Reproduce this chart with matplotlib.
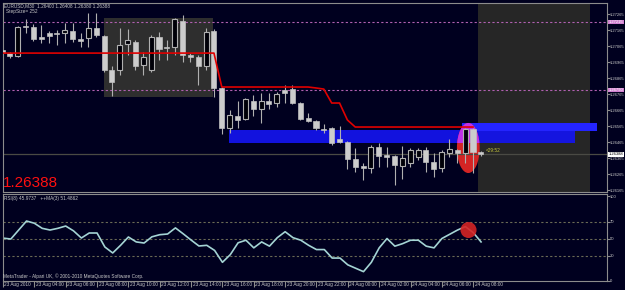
import numpy as np
import matplotlib
matplotlib.use("Agg")
import matplotlib.pyplot as plt
from matplotlib import font_manager
from matplotlib.patches import Rectangle, Ellipse
from matplotlib.transforms import ScaledTranslation

# EURUSD M30, 23 Aug 02:00 .. 24 Aug 08:30 (62 bars)
opens = [1.27040, 1.27021, 1.27003, 1.27190, 1.27184, 1.27121, 1.27146, 1.27146, 1.27146, 1.27159,
         1.27109, 1.27115, 1.27178, 1.27128, 1.26915, 1.26915, 1.27078, 1.27090, 1.26946, 1.26915,
         1.27121, 1.27059, 1.27059, 1.27221, 1.27009, 1.26996, 1.26940, 1.27159, 1.26803, 1.26553,
         1.26628, 1.26609, 1.26721, 1.26671, 1.26721, 1.26709, 1.26790, 1.26796, 1.26709, 1.26615,
         1.26596, 1.26546, 1.26553, 1.26484, 1.26465, 1.26359, 1.26315, 1.26303, 1.26434, 1.26384,
         1.26378, 1.26315, 1.26334, 1.26371, 1.26415, 1.26340, 1.26303, 1.26396, 1.26415, 1.26396,
         1.26546, 1.26400]
highs = [1.27053, 1.27028, 1.27190, 1.27234, 1.27203, 1.27196, 1.27159, 1.27165, 1.27209, 1.27209,
         1.27146, 1.27271, 1.27271, 1.27134, 1.26940, 1.27178, 1.27171, 1.27103, 1.27028, 1.27134,
         1.27153, 1.27103, 1.27240, 1.27259, 1.27021, 1.27009, 1.27178, 1.27171, 1.26809, 1.26665,
         1.26721, 1.26740, 1.26759, 1.26771, 1.26771, 1.26778, 1.26821, 1.26821, 1.26715, 1.26646,
         1.26603, 1.26578, 1.26559, 1.26565, 1.26471, 1.26428, 1.26334, 1.26446, 1.26459, 1.26434,
         1.26384, 1.26440, 1.26428, 1.26428, 1.26434, 1.26396, 1.26415, 1.26484, 1.26421, 1.26553,
         1.26553, 1.26408]
lows = [1.27009, 1.26990, 1.26996, 1.27146, 1.27096, 1.27084, 1.27084, 1.27071, 1.27084, 1.27090,
        1.27059, 1.27059, 1.27121, 1.26903, 1.26753, 1.26884, 1.27009, 1.26915, 1.26884, 1.26903,
        1.26978, 1.26978, 1.27009, 1.26965, 1.26965, 1.26821, 1.26915, 1.26746, 1.26515, 1.26521,
        1.26553, 1.26603, 1.26628, 1.26584, 1.26671, 1.26684, 1.26709, 1.26703, 1.26603, 1.26590,
        1.26540, 1.26521, 1.26446, 1.26459, 1.26296, 1.26278, 1.26228, 1.26271, 1.26309, 1.26309,
        1.26196, 1.26234, 1.26309, 1.26353, 1.26278, 1.26246, 1.26278, 1.26371, 1.26334, 1.26334,
        1.26271, 1.26380]
closes = [1.27021, 1.27003, 1.27184, 1.27184, 1.27109, 1.27109, 1.27128, 1.27140, 1.27165, 1.27109,
          1.27096, 1.27178, 1.27134, 1.26915, 1.26840, 1.27071, 1.27103, 1.26940, 1.26996, 1.27121,
          1.27046, 1.27053, 1.27234, 1.27009, 1.26996, 1.26940, 1.27153, 1.26803, 1.26553, 1.26634,
          1.26603, 1.26734, 1.26671, 1.26721, 1.26703, 1.26765, 1.26771, 1.26709, 1.26609, 1.26596,
          1.26553, 1.26540, 1.26459, 1.26465, 1.26359, 1.26309, 1.26303, 1.26434, 1.26378, 1.26371,
          1.26321, 1.26365, 1.26415, 1.26415, 1.26340, 1.26296, 1.26403, 1.26421, 1.26396, 1.26546,
          1.26403, 1.26388]

# step indicator (red line), bars 0..60
step_line = [1.27021] * 28 + [1.26809] * 12 + [1.26803, 1.26796, 1.26709, 1.26709, 1.26603] + [1.26559] * 16

rsi = [50.5, 49.4, 60, 70.6, 68, 62, 60, 62, 64.7, 59,
       50.6, 56.5, 56.5, 40, 33, 42, 51.8, 46, 44.7, 52,
       54.5, 55.3, 62.5, 55.5, 48.2, 41.2, 42, 36, 22, 31,
       45, 48, 39, 46, 41, 51, 58, 51, 48, 42,
       37, 37, 27, 27, 19, 15, 11, 22, 39, 50,
       41, 44, 48, 48, 41, 39, 50, 55, 60, 64,
       57, 46]
rsi_levels = [70, 50, 30]

time_labels = ["23 Aug 2010", "23 Aug 04:00", "23 Aug 06:00", "23 Aug 08:00", "23 Aug 10:00",
               "23 Aug 12:00", "23 Aug 14:00", "23 Aug 16:00", "23 Aug 18:00", "23 Aug 20:00",
               "23 Aug 22:00", "24 Aug 00:00", "24 Aug 02:00", "24 Aug 04:00", "24 Aug 06:00",
               "24 Aug 08:00"]
price_ticks = [1.27265, 1.27165, 1.27065, 1.26965, 1.26865, 1.26765, 1.26665,
               1.26565, 1.26465, 1.26365, 1.26265, 1.26165]
pink_levels = [1.27215, 1.26790]
bid = 1.26388

# chart objects
range_box = (13.0, 26.9, 1.26746, 1.27240)      # x0, x1, low, high
future_zone = (60.7, 74.9)
blue_zone_a = (28.9, 73.0, 1.26459, 1.26540)
blue_zone_b = (58.6, 75.8, 1.26534, 1.26584)
mark_price = (59.4, 1.26428, 2.9, 0.00313)       # x, y, w, h
mark_rsi = (59.4, 60, 2.05, 18.8)

BG = "#00001f"
FRAME = "#8c8c8c"
TXT = "#c8c8c8"
FS = 3.4
FS_AX = 3.0

names = {f.name for f in font_manager.fontManager.ttflist}
small = "Liberation Sans Narrow" if "Liberation Sans Narrow" in names else "Liberation Sans"
plt.rcParams["font.family"] = [small, "DejaVu Sans"]

W, H = 625, 290
fig = plt.figure(figsize=(W / 100, H / 100), dpi=100, facecolor=BG)


def box(x0, y0, x1, y1):
    return [x0 / W, 1 - y1 / H, (x1 - x0) / W, (y1 - y0) / H]


ax = fig.add_axes(box(3, 3, 607, 192), facecolor=BG)
ax2 = fig.add_axes(box(3, 194, 607, 281), facecolor=BG)

x = np.arange(len(opens))
o, h, l, c = map(np.array, (opens, highs, lows, closes))
xlim = ((3 - 2) / 7.85, (607 - 2) / 7.85)

# background objects
ax.add_patch(Rectangle((range_box[0], range_box[2]), range_box[1] - range_box[0],
                       range_box[3] - range_box[2], color="#2e2e2e", lw=0, zorder=0.5))
ax.axvspan(future_zone[0], future_zone[1], color="#262626", lw=0, zorder=0.5)
ax.add_patch(Rectangle((blue_zone_a[0], blue_zone_a[2]), blue_zone_a[1] - blue_zone_a[0],
                       blue_zone_a[3] - blue_zone_a[2], color="#1414f0", alpha=0.92, lw=0, zorder=1))
ax.add_patch(Rectangle((blue_zone_b[0], blue_zone_b[2]), blue_zone_b[1] - blue_zone_b[0],
                       blue_zone_b[3] - blue_zone_b[2], color="#2424ff", lw=0, zorder=1.1))

ell = Ellipse(mark_price[:2], mark_price[2], mark_price[3], color="#d42424", lw=0, zorder=1.5)
ax.add_patch(ell)
clip = Rectangle((blue_zone_b[0] - 2, blue_zone_a[2]), 6, blue_zone_b[3] - blue_zone_a[2],
                 transform=ax.transData, visible=False)
ax.add_patch(clip)
ell2 = Ellipse(mark_price[:2], mark_price[2], mark_price[3], color="#c030e8", lw=0, zorder=1.6)
ax.add_patch(ell2)
ell2.set_clip_path(clip)

for p in pink_levels:
    ax.axhline(p, color="#b060b0", lw=0.8, ls=(0, (2, 2)), zorder=1.8)
ax.axhline(bid, color="#4a4a44", lw=0.9, zorder=1.8)

# candles
bull = c > o
lo = np.minimum(o, c)
ht = np.maximum(np.abs(c - o), 0.00002)
ax.vlines(x, l, h, color="#b0b0b0", lw=0.8, zorder=3)
ax.bar(x[~bull], ht[~bull], bottom=lo[~bull], width=0.64, color="#cccccc",
       edgecolor="#c0c0c0", lw=0.5, zorder=4)
ax.bar(x[bull], ht[bull], bottom=lo[bull], width=0.64, color="#000008",
       edgecolor="#b0b0b0", lw=0.8, zorder=4)

ax.plot(np.arange(len(step_line)), step_line, color="#e00000", lw=1.2, zorder=5)

ax.set_xlim(*xlim)
ax.set_ylim(1.26153, 1.27334)
ax.yaxis.tick_right()
ax.set_yticks(price_ticks)
ax.set_yticklabels([f"{p:.5f}" for p in price_ticks])
ax.set_xticks([])
ax.tick_params(axis="y", colors=FRAME, labelcolor=TXT, labelsize=FS_AX, length=2, pad=0.3)
for s in ax.spines.values():
    s.set_color(FRAME)
    s.set_linewidth(0.8)

ytr = ax.get_yaxis_transform()
for p in pink_levels:
    ax.text(1.0025, p, f"{p:.5f}", transform=ytr, fontsize=FS_AX, color="white",
            va="center", ha="left", zorder=6,
            bbox=dict(boxstyle="square,pad=0.1", fc="#d080d0", ec="none"))
ax.text(1.0025, bid, f"{bid:.5f}", transform=ytr, fontsize=FS_AX, color="black",
        va="center", ha="left", zorder=6,
        bbox=dict(boxstyle="square,pad=0.1", fc="white", ec="none"))
ax.text(61.6, 1.26415, "<29:52", fontsize=FS, color="#c8c83c", va="center", ha="left", zorder=6)

# RSI
for lev in rsi_levels:
    ax2.axhline(lev, color="#6a6a55", lw=0.8, ls=(0, (2, 2)), zorder=1)
ax2.plot(x, rsi, color="#a4d4d4", lw=1.2, zorder=2)
ax2.add_patch(Ellipse(mark_rsi[:2], mark_rsi[2], mark_rsi[3], color="#d42424",
                      alpha=0.9, lw=0, zorder=3))
ax2.set_xlim(*xlim)
ax2.set_ylim(0, 102.4)
ax2.yaxis.tick_right()
ax2.set_yticks([0, 30, 50, 70, 100])
ax2.tick_params(axis="y", colors=FRAME, labelcolor=TXT, labelsize=FS_AX, length=2, pad=0.3)
ax2.set_xticks(np.arange(0, 61, 4))
ax2.set_xticklabels(time_labels)
ax2.tick_params(axis="x", colors=FRAME, labelcolor=TXT, labelsize=FS, length=4, pad=-3.2)
shift = ScaledTranslation(1.5 / 100, 0, fig.dpi_scale_trans)
for t in ax2.get_xticklabels():
    t.set_ha("left")
    t.set_transform(t.get_transform() + shift)
for s in ax2.spines.values():
    s.set_color(FRAME)
    s.set_linewidth(0.8)

fig.text(4 / W, 1 - 3 / H, "EURUSD,M30  1.26400 1.26408 1.26380 1.26388", fontsize=FS,
         color=TXT, va="top")
fig.text(6 / W, 1 - 8.5 / H, "StepSize= 252", fontsize=FS, color=TXT, va="top")
fig.text(3 / W, 1 - 187 / H, "1.26388", fontsize=11, color="#ff1010", va="baseline",
         family="Liberation Sans")
fig.text(4 / W, 1 - 196 / H, "RSI(8) 45.9737   ++MA(3) 51.4862", fontsize=FS, color=TXT, va="top")
fig.text(3 / W, 1 - 276 / H, "MetaTrader - Alpari UK, \u00a9 2001-2010 MetaQuotes Software Corp.",
         fontsize=FS, color=TXT, va="center")

fig.savefig("out.png", dpi=100, facecolor=BG)
